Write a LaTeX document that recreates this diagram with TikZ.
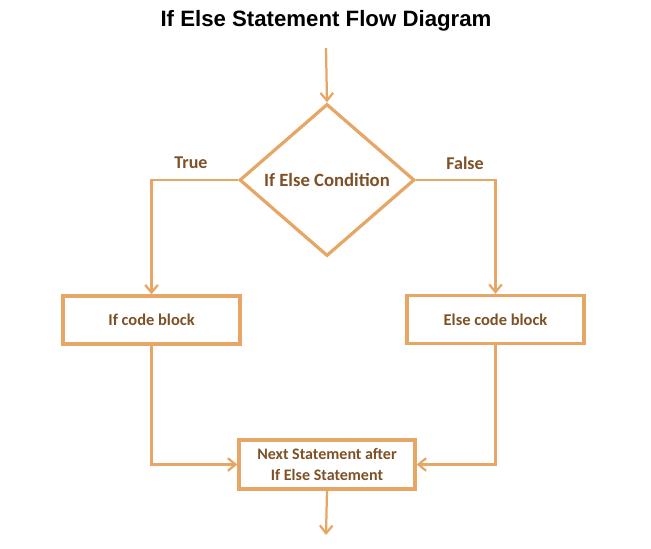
\documentclass[tikz,border=0pt]{standalone}
\usepackage{fontspec}
\setmainfont{Carlito}
\newfontfamily\titlefont{Liberation Sans}
\usepackage{xcolor}
\usepackage{tikz}
\usetikzlibrary{arrows.meta,shapes.geometric}
\definecolor{edge}{HTML}{E6A766}
\definecolor{ink}{HTML}{7D5026}
\tikzset{
  flow/.style={draw=edge, line width=1.6pt, -{Straight Barb[length=5.5pt,width=9pt]}},
  cond/.style={diamond, draw=edge, line width=2.3pt, inner sep=0pt,
    minimum width=4.375cm, minimum height=3.8cm, text=ink, font=\bfseries\fontsize{13.3}{15}\selectfont},
  block/.style={rectangle, draw=edge, line width=2.3pt, minimum width=4.42cm,
    minimum height=1.2cm, text=ink, align=center, font=\bfseries\fontsize{11.7}{14}\selectfont},
  lbl/.style={text=ink, font=\bfseries\fontsize{12.8}{15}\selectfont}
}
\begin{document}
\begin{tikzpicture}[x=0.025cm, y=-0.025cm]
  \useasboundingbox (0,0) rectangle (651,548);

  \coordinate (in) at (326,48);
  \coordinate (out) at (326,535);

  \node[font=\titlefont\bfseries\fontsize{15.8}{18}\selectfont] (title) at (326,21) {If Else Statement Flow Diagram};

  \node[cond] (ifelse) at (327,180) {If Else Condition};
  \node[block] (ifblk) at (151.5,320) {If code block};
  \node[block] (elseblk) at (495.5,319.5) {Else code block};
  \node[block, minimum width=4.4cm, minimum height=1.225cm, font=\bfseries\fontsize{11.4}{15}\selectfont] (next) at (327,464.5) {Next Statement after\\If Else Statement};

  \node[lbl] (true) at (191,163) {True};
  \node[lbl] (false) at (465,163) {False};

  % connectors
  \draw[flow] (in) -- (ifelse.north);
  \draw[flow] (ifelse.west) -| (ifblk.north);
  \draw[flow] (ifelse.east) -| (elseblk.north);
  \draw[flow] (ifblk.south) |- (next.west);
  \draw[flow] (elseblk.south) |- (next.east);
  \draw[flow] (next.south) -- (out);
\end{tikzpicture}
\end{document}
